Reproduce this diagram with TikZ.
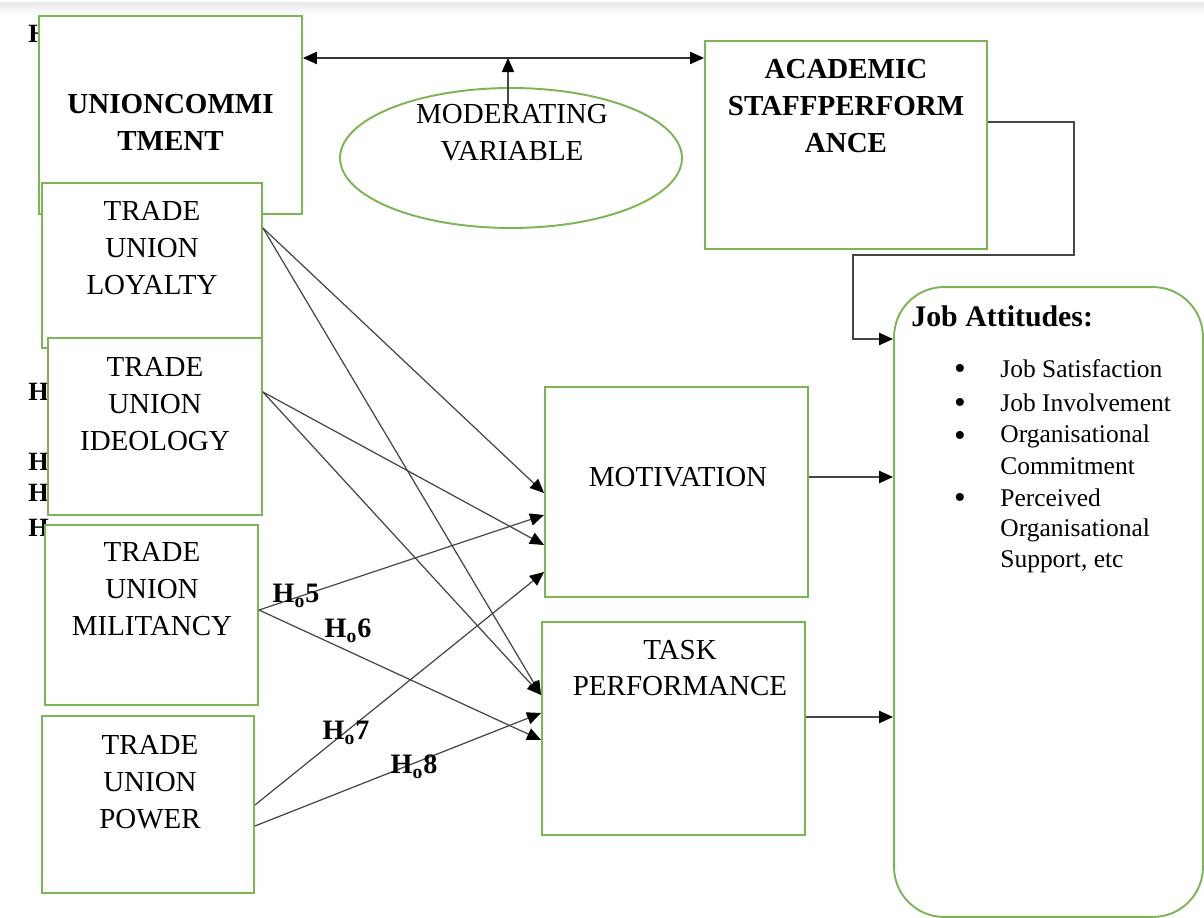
\documentclass[tikz,border=0pt]{standalone}
\usepackage{fontspec}
\setmainfont{Liberation Serif}
\usetikzlibrary{arrows.meta,shapes.geometric}
\definecolor{boxgreen}{RGB}{125,180,85}
\definecolor{linegray}{RGB}{70,70,70}
\begin{document}
\begin{tikzpicture}[x=0.02cm,y=-0.02cm,
  box/.style={draw=boxgreen, line width=1.1pt, fill=white, inner sep=0pt},
  btext/.style={align=center, inner sep=0pt, font=\fontsize{16.5}{21}\selectfont},
  bbtext/.style={btext, font=\fontsize{16.5}{21}\selectfont\bfseries},
  hlab/.style={inner sep=0pt, font=\fontsize{15}{18}\selectfont\bfseries},
  olab/.style={inner sep=0pt, font=\fontsize{16}{18}\selectfont\bfseries},
  conn/.style={draw=linegray, line width=0.7pt, -{Triangle[length=8pt,width=7pt,color=black]}},
  dbl/.style={draw=black!80, line width=0.75pt, {Triangle[length=8pt,width=7pt,color=black]}-{Triangle[length=8pt,width=7pt,color=black]}},
  bul/.style={inner sep=0pt, font=\fontsize{19}{20}\selectfont},
  jtext/.style={anchor=west, inner sep=0pt, font=\fontsize{14.5}{17}\selectfont}]
\useasboundingbox (0,0) rectangle (1204,918);
\fill[white] (0,0) rectangle (1204,918);
\shade[top color=gray!16, bottom color=white] (0,3) rectangle (1204,16);

% partially hidden H labels
\node[hlab, anchor=west] (h0) at (28,34) {H};
\node[hlab, anchor=west] (h1) at (28,392) {H};
\node[hlab, anchor=west] (h2) at (28,462) {H};
\node[hlab, anchor=west] (h3) at (28,493) {H};
\node[hlab, anchor=west] (h4) at (28,528) {H};

% left column boxes
\node[box, minimum width=5.26cm, minimum height=3.96cm] (uc) at (170.5,115) {};
\node[bbtext] (uct) at (170.5,122) {UNIONCOMMI\\TMENT};
\node[box, minimum width=4.4cm, minimum height=3.3cm] (loy) at (152,265.5) {};
\node[btext] (loyt) at (152,248) {TRADE\\UNION\\LOYALTY};
\node[box, minimum width=4.28cm, minimum height=3.54cm] (ide) at (155,426.5) {};
\node[btext] (idet) at (155,404) {TRADE\\UNION\\IDEOLOGY};
\node[box, minimum width=4.26cm, minimum height=3.6cm] (mil) at (151.5,615) {};
\node[btext] (milt) at (152,589) {TRADE\\UNION\\MILITANCY};
\node[box, minimum width=4.24cm, minimum height=3.54cm] (pow) at (148,804.5) {};
\node[btext] (powt) at (150,782) {TRADE\\UNION\\POWER};

% middle
\node[box, ellipse, minimum width=6.84cm, minimum height=2.8cm] (mv) at (511,158) {};
\node[btext] (mvt) at (512,133) {MODERATING\\VARIABLE};
\node[box, minimum width=5.26cm, minimum height=4.2cm] (mot) at (676.5,492) {};
\node[btext] (mott) at (678,477) {MOTIVATION};
\node[box, minimum width=5.26cm, minimum height=4.26cm] (task) at (673.5,728.5) {};
\node[btext] (taskt) at (680,668) {TASK\\PERFORMANCE};

% right
\node[box, minimum width=5.64cm, minimum height=4.16cm] (acad) at (846,145) {};
\node[bbtext] (acadt) at (846,106) {ACADEMIC\\STAFFPERFORM\\ANCE};
\node[box, rounded corners=1cm, minimum width=6.18cm, minimum height=12.6cm] (job) at (1048.5,602) {};
\node[anchor=west, inner sep=0pt, font=\fontsize{17}{20}\selectfont\bfseries] (jat) at (911,316) {Job Attitudes:};
\node[bul] (b1) at (960,372) {\textbullet};
\node[bul] (b2) at (960,406) {\textbullet};
\node[bul] (b3) at (960,439) {\textbullet};
\node[bul] (b4) at (960,501) {\textbullet};
\node[jtext] (j1) at (1000,369) {Job Satisfaction};
\node[jtext] (j2) at (1000,403) {Job Involvement};
\node[jtext] (j3) at (1000,436) {Organisational};
\node[jtext] (j4) at (1000,466) {Commitment};
\node[jtext] (j5) at (1000,498) {Perceived};
\node[jtext] (j6) at (1000,530) {Organisational};
\node[jtext] (j7) at (1000,562) {Support, etc};

% top connectors
\coordinate (hl) at (0,58);
\draw[dbl] (uc.east |- hl) -- (acad.west |- hl);
\coordinate (mvs) at (508,108);
\draw[conn] (mvs) -- (mvs |- hl);
\draw[conn] (acad.east |- 0,122) -| (1074,255) -| (853,339) -- (job.west |- 0,339);

% outputs to job attitudes
\draw[conn] (mot.east |- 0,477) -- (job.west |- 0,477);
\draw[conn] (task.east |- 0,717) -- (job.west |- 0,717);

% hypotheses connectors
\draw[conn] (loy.east |- 0,228) -- (mot.west |- 0,493);
\draw[conn] (loy.east |- 0,228) -- (task.west |- 0,695);
\draw[conn] (ide.east |- 0,392) -- (mot.west |- 0,545);
\draw[conn] (ide.east |- 0,392) -- (task.west |- 0,695);
\draw[conn] (mil.east |- 0,610) -- (mot.west |- 0,515);
\draw[conn] (mil.east |- 0,610) -- (task.west |- 0,740);
\draw[conn] (pow.east |- 0,805) -- (mot.west |- 0,572);
\draw[conn] (pow.east |- 0,826) -- (task.west |- 0,713);

\node[olab] (l5) at (296,596) {H\textsubscript{o}5};
\node[olab] (l6) at (348,631) {H\textsubscript{o}6};
\node[olab] (l7) at (346,733) {H\textsubscript{o}7};
\node[olab] (l8) at (414,767) {H\textsubscript{o}8};
\end{tikzpicture}
\end{document}
